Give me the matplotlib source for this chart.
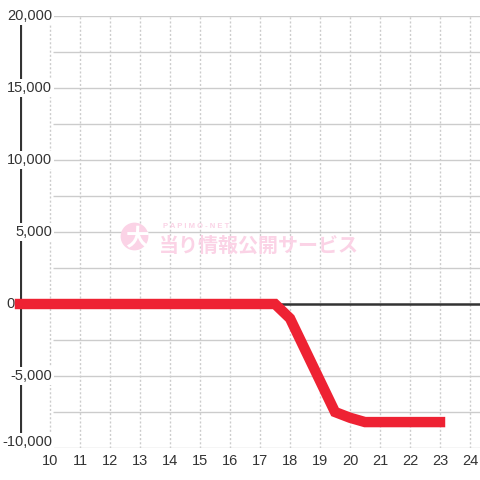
import matplotlib
matplotlib.use('Agg')
import matplotlib.pyplot as pyplot

HOURS = [9.0, 17.5, 18.0, 19.5, 20.0, 20.5, 23.0]
BALANCE = [0, 0, -1000, -7500, -7900, -8200, -8200]

Y_TICKS = [20000, 15000, 10000, 5000, 0, -5000, -10000]
Y_GRID = [20000, 17500, 15000, 12500, 10000, 7500, 5000, 2500, -2500, -5000, -7500, -10000]
X_TICKS = list(range(10, 25))

TEXT_COLOUR = '#333333'
GRID_COLOUR = '#cccccc'
LINE_COLOUR = '#ee2233'
WATERMARK_COLOUR = '#fbd3e6'

pyplot.rcParams['font.family'] = ['Liberation Sans', 'DejaVu Sans']

figure = pyplot.figure(figsize=(4.8, 4.8), dpi=100)
axes = figure.add_axes([20 / 480, 32 / 480, 460 / 480, 432 / 480])
axes.set_xlim(9.0, 24.333)
axes.set_ylim(-10000, 20000)
axes.axis('off')

for value in Y_GRID:
    axes.hlines(value, 10.1, 24.333, color=GRID_COLOUR, linewidth=1, zorder=1)
for hour in X_TICKS:
    axes.vlines(hour, -10000, 20000, color=GRID_COLOUR, linewidth=1,
                linestyles=(0, (1.5, 1.5)), zorder=1)

# watermark
axes.plot([12.8], [4720], marker='o', markersize=20, color=WATERMARK_COLOUR,
          markeredgewidth=0, zorder=2)
axes.text(12.9, 4500, '大', color='white', fontsize=17, fontweight='bold',
          family=['Noto Sans CJK JP'], ha='center', va='center', zorder=3)
axes.text(13.77, 5350, 'P A P I M O - N E T', color=WATERMARK_COLOUR, fontsize=5.5,
          fontweight='bold', ha='left', va='center', zorder=3)
axes.text(13.62, 4100, '当り情報公開サービス', color=WATERMARK_COLOUR, fontsize=14.4,
          fontweight='bold', family=['Noto Sans CJK JP'], ha='left', va='center', zorder=3)

axes.hlines(0, 9.0, 24.333, color=TEXT_COLOUR, linewidth=1.8, zorder=4)
axes.vlines(9.0, -10000, 20000, color=TEXT_COLOUR, linewidth=3, zorder=4)

for value in Y_TICKS:
    label_x = 8.82 if value == 0 else 10.07
    label_y = value + 400 if value == -10000 else value
    axes.text(label_x, label_y, '{:,}'.format(value), ha='right', va='center',
              fontsize=10.5, color=TEXT_COLOUR, zorder=6, clip_on=False,
              bbox=dict(facecolor='white', edgecolor='none', pad=1.5))
for hour in X_TICKS:
    axes.text(hour, -10900, str(hour), ha='center', va='center',
              fontsize=10.5, color=TEXT_COLOUR)

axes.plot(HOURS, BALANCE, color=LINE_COLOUR, linewidth=7.5,
          solid_joinstyle='miter', solid_capstyle='projecting', zorder=7,
          clip_on=False)

figure.savefig('out.png', dpi=100)
